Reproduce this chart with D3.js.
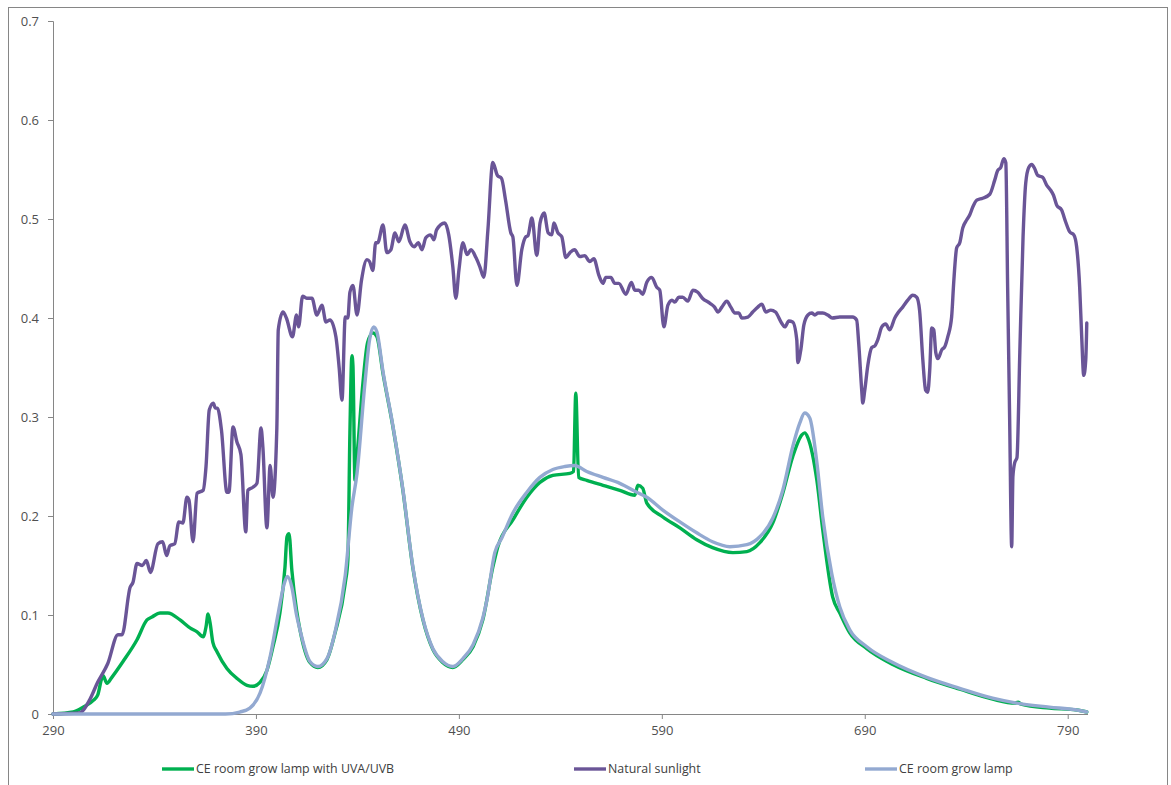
<!DOCTYPE html>
<html>
<head>
<meta charset="utf-8">
<script src="https://cdn.jsdelivr.net/npm/d3@7"></script>
<style>
  html, body { margin: 0; padding: 0; background: #ffffff; }
  svg { display: block; }
  text { font-family: "Open Sans", "Noto Sans", sans-serif; }
</style>
</head>
<body>
<svg id="chart" width="1171" height="785"></svg>
<script>
// Spectral irradiance, wavelength in nm
const xTicks = [290, 390, 490, 590, 690, 790];
const yTicks = [0, 0.1, 0.2, 0.3, 0.4, 0.5, 0.6, 0.7];
const seriesNames = ["CE room grow lamp with UVA/UVB", "Natural sunlight", "CE room grow lamp"];

const uvLampData = [
  [290,0],[300,0.002],[305,0.007],[310,0.014],[312,0.019],[314,0.036],[314.6,0.039],[316.6,0.031],
  [319,0.037],[324.5,0.053],[331.4,0.075],[336.3,0.095],[338.8,0.098],[342.7,0.102],[346.6,0.102],
  [352.6,0.095],[357.5,0.087],[361,0.083],[364,0.078],[365.4,0.088],[366.4,0.101],[367.4,0.092],
  [368.8,0.072],[370.8,0.063],[375.7,0.046],[380.6,0.036],[385.6,0.029],[388.5,0.028],[392,0.032],
  [395.4,0.044],[398.4,0.068],[401.8,0.102],[404.3,0.148],[405.3,0.179],[406.3,0.182],[407.7,0.145],
  [410,0.105],[411.7,0.085],[416.6,0.052],[420.5,0.047],[425,0.055],[429,0.082],[434,0.132],
  [435.3,0.156],[436.3,0.284],[437.3,0.362],[437.8,0.352],[438.8,0.236],[440.2,0.27],[442.7,0.334],
  [445,0.375],[447.6,0.385],[449.6,0.381],[452.6,0.344],[457.5,0.29],[462.4,0.226],[467.3,0.148],
  [472.3,0.095],[477.2,0.065],[482,0.052],[487,0.047],[492,0.055],[497,0.068],[501.8,0.095],
  [506.7,0.148],[509.2,0.169],[516.6,0.196],[523.5,0.219],[529.9,0.234],[536.3,0.241],[544.7,0.243],
  [546.5,0.245],[547.6,0.324],[549,0.239],[553,0.236],[561,0.231],[569.3,0.226],[576.7,0.221],
  [578.2,0.231],[580.6,0.228],[582.6,0.213],[590.5,0.199],[598.9,0.188],[607.2,0.176],[615,0.168],
  [625,0.163],[631.9,0.164],[638.3,0.173],[644.7,0.193],[649.6,0.223],[654.5,0.26],[659,0.282],
  [660.4,0.284],[662,0.279],[666.4,0.236],[669.3,0.186],[674.2,0.118],[677.7,0.102],[682.6,0.082],
  [691,0.066],[703.8,0.05],[720.5,0.036],[736.8,0.025],[753,0.015],[764,0.011],[765.5,0.012],
  [767,0.01],[781,0.006],[794.4,0.004],[799.4,0.002]
];

const sunlightData = [
  [290,0],[303,0.001],[308,0.014],[312,0.032],[317,0.051],[322,0.08],[324,0.08],[328,0.128],
  [329.4,0.133],[331.4,0.152],[334,0.15],[336,0.155],[338,0.143],[341.7,0.172],[344,0.174],[346,0.16],
  [347.6,0.17],[350,0.172],[352,0.194],[354,0.193],[356,0.219],[357,0.216],[359,0.174],[361,0.223],
  [364,0.226],[365.4,0.25],[367,0.307],[369,0.314],[370,0.309],[371,0.309],[373,0.287],[375.7,0.224],
  [376.7,0.224],[378.7,0.29],[380.6,0.275],[382.6,0.262],[385,0.184],[386,0.226],[388.5,0.229],
  [390.5,0.233],[392.5,0.289],[393.4,0.27],[395.4,0.188],[397,0.251],[398.4,0.219],[400.3,0.289],
  [401,0.388],[403.3,0.406],[405,0.4],[408,0.381],[410,0.403],[411,0.391],[413,0.422],[415,0.42],
  [417.6,0.42],[420,0.403],[422.5,0.413],[424.5,0.396],[426.5,0.398],[429.4,0.381],[431,0.35],
  [432.4,0.317],[434,0.401],[435.3,0.4],[436.3,0.426],[437.8,0.433],[439.8,0.403],[442,0.438],
  [444.7,0.459],[446,0.457],[447.6,0.448],[449,0.476],[450,0.476],[452.6,0.494],[454.5,0.466],
  [456.5,0.469],[458.5,0.486],[460.4,0.477],[463.4,0.494],[465.9,0.477],[468,0.472],[470,0.476],
  [471.8,0.469],[473.7,0.481],[476,0.484],[477.7,0.479],[479,0.489],[483,0.496],[485,0.484],
  [487,0.452],[488.5,0.42],[490,0.448],[492,0.476],[494,0.464],[496,0.469],[498.4,0.461],
  [500.3,0.452],[502.3,0.441],[504.3,0.489],[506.7,0.557],[509,0.544],[511,0.541],[513,0.519],
  [515.6,0.486],[516.6,0.482],[518.6,0.433],[521,0.469],[523,0.482],[524,0.483],[526,0.501],
  [528.4,0.463],[530,0.496],[532,0.506],[534,0.486],[535.8,0.484],[536.8,0.496],[538.8,0.486],
  [540.7,0.482],[542.7,0.461],[544.7,0.466],[547,0.469],[549.6,0.462],[552,0.463],[554.5,0.457],
  [556.5,0.46],[559,0.443],[561,0.435],[562.4,0.441],[564.9,0.441],[566.8,0.435],[568.8,0.435],
  [572.3,0.424],[575,0.436],[576.7,0.428],[578.7,0.428],[580.6,0.424],[582.6,0.436],[585,0.441],
  [587.5,0.431],[589,0.428],[591,0.391],[593,0.413],[595,0.418],[596.4,0.416],[598.4,0.421],
  [600.3,0.421],[602.8,0.417],[605.3,0.428],[607.7,0.426],[610,0.42],[613.6,0.415],[616,0.411],
  [617.6,0.406],[619.6,0.411],[622,0.417],[624,0.411],[626,0.405],[628,0.405],[629.4,0.4],
  [632.4,0.401],[634.8,0.406],[637.3,0.411],[639.3,0.414],[641.2,0.406],[643.7,0.408],[646,0.406],
  [649,0.395],[650.6,0.391],[652.6,0.397],[654.5,0.396],[656.5,0.378],[657,0.355],[658.5,0.368],
  [660,0.393],[662,0.403],[663.9,0.405],[665.4,0.403],[667,0.405],[669.3,0.405],[671.8,0.403],
  [674,0.4],[677.7,0.401],[681,0.401],[684,0.401],[686,0.398],[687,0.375],[688.5,0.327],[689,0.314],
  [690,0.327],[691.5,0.352],[693.4,0.37],[695,0.372],[696.4,0.378],[698.4,0.391],[700.3,0.394],
  [702.3,0.388],[704.8,0.4],[706.3,0.405],[708.7,0.411],[711.2,0.418],[713.6,0.423],[715.6,0.421],
  [717,0.408],[718.6,0.358],[720,0.327],[721,0.325],[722,0.347],[723,0.39],[724,0.388],[725,0.365],
  [726,0.359],[728,0.368],[729.4,0.371],[730.9,0.381],[732.8,0.401],[733.8,0.435],[735.3,0.471],
  [736.8,0.476],[738.3,0.491],[740.2,0.499],[741.7,0.504],[743.2,0.512],[745.2,0.519],[748.1,0.521],
  [751.6,0.525],[754,0.539],[755.5,0.549],[757,0.552],[758.5,0.561],[759.5,0.557],[760.4,0.431],
  [761.4,0.297],[762.4,0.169],[763,0.24],[763.9,0.254],[765,0.259],[766.4,0.365],[768,0.482],
  [769.3,0.536],[770.8,0.552],[772.3,0.555],[773.7,0.551],[775.2,0.544],[777.7,0.542],[779.7,0.534],
  [781.6,0.529],[783,0.524],[784.6,0.514],[787,0.509],[789,0.497],[791,0.487],[793,0.484],
  [794.4,0.472],[795.9,0.431],[796.9,0.381],[797.9,0.342],[798.9,0.358],[799.4,0.395]
];

const growLampData = [
  [290,0],[375,0],[382,0.002],[387,0.006],[392,0.021],[397,0.058],[401,0.102],[404,0.132],
  [405.5,0.139],[407.7,0.128],[410,0.1],[411.7,0.085],[416.6,0.053],[420.5,0.048],[425,0.056],
  [429,0.083],[434,0.14],[437.3,0.209],[439.8,0.243],[443.7,0.334],[446,0.378],[448,0.391],
  [449.6,0.386],[452.6,0.346],[457.5,0.291],[462.4,0.227],[467.3,0.149],[472.3,0.096],[477.2,0.066],
  [482,0.053],[487,0.048],[492,0.056],[497,0.07],[501.8,0.097],[503.8,0.115],[507.7,0.163],
  [511.2,0.178],[516.6,0.203],[523.5,0.224],[529.9,0.239],[536.3,0.247],[542.2,0.25],[547,0.251],
  [553,0.245],[561,0.239],[569.3,0.233],[577.7,0.224],[582.6,0.219],[590.5,0.206],[598.9,0.194],
  [607.2,0.183],[615,0.174],[623.5,0.169],[631.9,0.171],[638.3,0.179],[644.7,0.198],[649.6,0.226],
  [654.5,0.27],[658,0.294],[660.4,0.304],[662.9,0.299],[666.4,0.254],[669.3,0.199],[673.7,0.142],
  [677.7,0.108],[682.6,0.085],[691,0.068],[703.8,0.052],[720.5,0.037],[736.8,0.026],[753,0.016],
  [764.9,0.011],[781,0.007],[794.4,0.004],[799.4,0.002]
];

const svg = d3.select("#chart");
const W = 1171, H = 785;
const margin = { left: 53, top: 21, right: 83, bottom: 71 };

// outer frame
svg.append("rect")
  .attr("x", 8.5).attr("y", 7.5)
  .attr("width", W - 12).attr("height", H)
  .attr("fill", "#ffffff").attr("stroke", "#868686").attr("stroke-width", 1);

const x = d3.scaleLinear().domain([290, 800]).range([margin.left, W - margin.right]);
const y = d3.scaleLinear().domain([0, 0.7]).range([H - margin.bottom, margin.top]);

const axisColor = "#868686";
const labelColor = "#505050";

// y axis
const yAxis = svg.append("g")
  .attr("transform", `translate(${margin.left},0)`)
  .call(d3.axisLeft(y).tickValues(yTicks).tickSize(5).tickPadding(9)
    .tickFormat(d => d === 0 ? "0" : d3.format(".1f")(d)));
yAxis.select(".domain").attr("stroke", axisColor);
yAxis.selectAll(".tick line").attr("stroke", axisColor);
yAxis.selectAll(".tick text").attr("fill", labelColor)
  .style("font-size", "13px").style("font-family", "'Open Sans', sans-serif");

// x axis
const xAxis = svg.append("g")
  .attr("transform", `translate(0,${H - margin.bottom})`)
  .call(d3.axisBottom(x).tickValues(xTicks).tickSize(5).tickPadding(7).tickFormat(d3.format("d")));
xAxis.select(".domain").attr("stroke", axisColor).attr("d", `M${x(290)},0.5H${x(800)}`);
xAxis.selectAll(".tick line").attr("stroke", axisColor);
xAxis.selectAll(".tick text").attr("fill", labelColor)
  .style("font-size", "13px").style("font-family", "'Open Sans', sans-serif");

const line = d3.line()
  .x(d => x(d[0]))
  .y(d => y(d[1]))
  .curve(d3.curveMonotoneX);

const series = [
  { name: seriesNames[0], data: uvLampData, color: "#00b050" },
  { name: seriesNames[1], data: sunlightData, color: "#6a5597" },
  { name: seriesNames[2], data: growLampData, color: "#93a9d1" }
];

svg.append("g").selectAll("path")
  .data(series)
  .join("path")
  .attr("d", d => line(d.data))
  .attr("fill", "none")
  .attr("stroke", d => d.color)
  .attr("stroke-width", 3.4)
  .attr("stroke-linejoin", "round")
  .attr("stroke-linecap", "round");

// legend
const legendX = [162, 574, 865];
const legend = svg.append("g").attr("transform", "translate(0,769)");
const items = legend.selectAll("g")
  .data(series)
  .join("g")
  .attr("transform", (d, i) => `translate(${legendX[i]},0)`);
items.append("line")
  .attr("x1", 0).attr("x2", 32).attr("y1", 0).attr("y2", 0)
  .attr("stroke", d => d.color).attr("stroke-width", 3.4);
items.append("text")
  .attr("x", 34).attr("y", 0).attr("dy", "0.35em")
  .attr("fill", "#404040")
  .style("font-size", "12.4px")
  .text(d => d.name);
</script>
</body>
</html>
